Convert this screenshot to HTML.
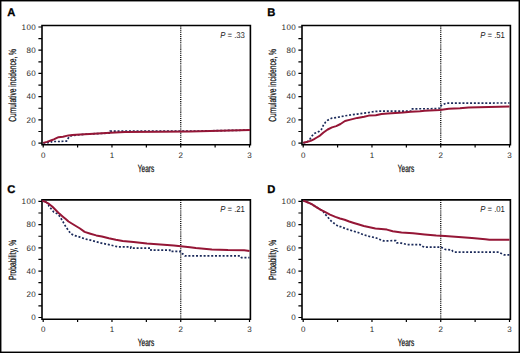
<!DOCTYPE html>
<html><head><meta charset="utf-8"><style>
html,body{margin:0;padding:0;background:#fff;}
svg{display:block;}
text{font-family:"Liberation Sans", sans-serif;fill:#000;text-rendering:geometricPrecision;}
.lt{font-size:11.2px;font-weight:bold;stroke:#000;stroke-width:0.3px;}
.yl{font-size:10.4px;fill:#111;stroke:#111;stroke-width:0.25px;}
.xl{font-size:10.4px;fill:#111;stroke:#111;stroke-width:0.25px;}
.tk{font-size:8px;fill:#2a2a2a;}
.ls{letter-spacing:0.5px;}
.pv{font-size:8.6px;fill:#222;}
</style></head><body>
<svg width="520" height="353" viewBox="0 0 520 353">
<rect x="0.72" y="0.72" width="518.56" height="351.56" fill="none" stroke="#000" stroke-width="1.44"/>
<g transform="translate(0,0)">
<text x="7.2" y="16.10" class="lt">A</text>
<text class="yl" transform="translate(15.6,85.35) rotate(-90) scale(0.64,1)" x="-56.94" y="0">Cumulative incidence, %</text>
<path d="M42.0,25.5 H250.4 V144.8 H42.0 Z" fill="none" stroke="#000" stroke-width="1.6"/>
<path d="M38.4,143.10H42.0M38.4,131.49H42.0M38.4,119.88H42.0M38.4,108.27H42.0M38.4,96.66H42.0M38.4,85.05H42.0M38.4,73.44H42.0M38.4,61.83H42.0M38.4,50.22H42.0M38.4,38.61H42.0M38.4,27.00H42.0" stroke="#000" stroke-width="1.2"/>
<path d="M43.20,144.8V147.6M77.59,144.8V147.6M111.97,144.8V147.6M146.36,144.8V147.6M180.74,144.8V147.6M215.12,144.8V147.6M249.51,144.8V147.6" stroke="#000" stroke-width="1.2"/>
<text class="tk ls" x="31.35" y="145.85">0</text>
<text class="tk ls" x="26.40" y="122.63">20</text>
<text class="tk ls" x="26.40" y="99.41">40</text>
<text class="tk ls" x="26.40" y="76.19">60</text>
<text class="tk ls" x="26.40" y="52.97">80</text>
<text class="tk ls" x="21.45" y="29.75">100</text>
<text class="tk" x="40.98" y="157.6">0</text>
<text class="tk" x="109.75" y="157.6">1</text>
<text class="tk" x="178.52" y="157.6">2</text>
<text class="tk" x="247.29" y="157.6">3</text>
<text class="xl" transform="translate(146.35,171.9) scale(0.63,1)" x="-13.58" y="0">Years</text>
<text class="pv" transform="translate(244.9,37.8) scale(0.9,1)" x="-27.49" y="0"><tspan font-style="italic">P</tspan> = .33</text>
<path d="M180.74,25.5V144.8" stroke="#000" stroke-width="1.3" stroke-dasharray="1.05 1.05"/>
</g>
<polyline points="43.2,142.9 48.0,142.7 51.5,141.9 51.5,141.5 60.0,141.5 60.0,141.3 66.5,141.2 67.5,139.2 69.2,136.8 72.0,135.5 80.0,134.7 90.0,133.9 110.3,133.1 110.3,131.2 190.0,131.2 220.0,130.6 250.0,130.1" fill="none" stroke="#1b2a5a" stroke-width="1.7" stroke-dasharray="2 1.8"/>
<polyline points="43.2,142.9 47.0,141.9 51.5,140.2 53.8,139.4 58.5,137.2 63.0,136.7 68.5,135.4 72.3,135.1 80.0,134.5 89.5,133.9 110.3,132.8 125.0,132.1 160.0,131.8 190.0,131.4 220.0,130.7 250.0,130.1" fill="none" stroke="#951636" stroke-width="2.0" stroke-linejoin="round"/>
<g transform="translate(260.0,0)">
<text x="7.2" y="16.10" class="lt">B</text>
<text class="yl" transform="translate(15.6,85.35) rotate(-90) scale(0.64,1)" x="-56.94" y="0">Cumulative incidence, %</text>
<path d="M42.0,25.5 H250.4 V144.8 H42.0 Z" fill="none" stroke="#000" stroke-width="1.6"/>
<path d="M38.4,143.10H42.0M38.4,131.49H42.0M38.4,119.88H42.0M38.4,108.27H42.0M38.4,96.66H42.0M38.4,85.05H42.0M38.4,73.44H42.0M38.4,61.83H42.0M38.4,50.22H42.0M38.4,38.61H42.0M38.4,27.00H42.0" stroke="#000" stroke-width="1.2"/>
<path d="M43.20,144.8V147.6M77.59,144.8V147.6M111.97,144.8V147.6M146.36,144.8V147.6M180.74,144.8V147.6M215.12,144.8V147.6M249.51,144.8V147.6" stroke="#000" stroke-width="1.2"/>
<text class="tk ls" x="31.35" y="145.85">0</text>
<text class="tk ls" x="26.40" y="122.63">20</text>
<text class="tk ls" x="26.40" y="99.41">40</text>
<text class="tk ls" x="26.40" y="76.19">60</text>
<text class="tk ls" x="26.40" y="52.97">80</text>
<text class="tk ls" x="21.45" y="29.75">100</text>
<text class="tk" x="40.98" y="157.6">0</text>
<text class="tk" x="109.75" y="157.6">1</text>
<text class="tk" x="178.52" y="157.6">2</text>
<text class="tk" x="247.29" y="157.6">3</text>
<text class="xl" transform="translate(146.35,171.9) scale(0.63,1)" x="-13.58" y="0">Years</text>
<text class="pv" transform="translate(244.9,37.8) scale(0.9,1)" x="-27.49" y="0"><tspan font-style="italic">P</tspan> = .51</text>
<path d="M180.74,25.5V144.8" stroke="#000" stroke-width="1.3" stroke-dasharray="1.05 1.05"/>
</g>
<polyline points="303.2,142.9 306.0,142.4 308.1,141.2 310.0,139.0 311.2,137.1 312.5,135.3 314.3,133.4 316.8,132.5 319.3,131.4 321.4,129.5 323.5,125.0 325.6,122.0 327.7,120.2 332.0,118.1 336.2,117.6 340.5,116.8 343.9,116.0 350.4,115.0 357.3,114.1 363.0,113.3 368.8,112.5 374.6,111.5 379.2,111.2 410.8,111.2 411.5,108.8 439.0,108.7 439.5,107.0 441.9,105.1 444.8,103.7 446.7,103.1 509.5,103.0" fill="none" stroke="#1b2a5a" stroke-width="1.7" stroke-dasharray="2 1.8"/>
<polyline points="303.2,142.9 304.4,142.4 307.5,141.8 310.6,140.9 313.7,139.3 316.8,137.5 320.0,135.6 323.5,132.5 327.7,129.5 332.0,127.4 336.2,126.1 340.5,124.0 345.0,121.0 350.4,119.6 357.3,117.9 364.2,116.7 368.8,115.6 375.8,115.2 381.5,114.0 387.7,113.4 403.0,112.6 410.8,111.8 420.0,111.2 424.6,110.7 440.0,109.9 448.7,108.8 460.0,108.2 468.5,107.5 509.5,106.6" fill="none" stroke="#951636" stroke-width="2.0" stroke-linejoin="round"/>
<g transform="translate(0,174.4)">
<text x="7.2" y="18.20" class="lt">C</text>
<text class="yl" transform="translate(15.6,85.35) rotate(-90) scale(0.64,1)" x="-31.79" y="0">Probability, %</text>
<path d="M42.0,25.5 H250.4 V144.8 H42.0 Z" fill="none" stroke="#000" stroke-width="1.6"/>
<path d="M38.4,143.10H42.0M38.4,131.49H42.0M38.4,119.88H42.0M38.4,108.27H42.0M38.4,96.66H42.0M38.4,85.05H42.0M38.4,73.44H42.0M38.4,61.83H42.0M38.4,50.22H42.0M38.4,38.61H42.0M38.4,27.00H42.0" stroke="#000" stroke-width="1.2"/>
<path d="M43.20,144.8V147.6M77.59,144.8V147.6M111.97,144.8V147.6M146.36,144.8V147.6M180.74,144.8V147.6M215.12,144.8V147.6M249.51,144.8V147.6" stroke="#000" stroke-width="1.2"/>
<text class="tk ls" x="31.35" y="145.85">0</text>
<text class="tk ls" x="26.40" y="122.63">20</text>
<text class="tk ls" x="26.40" y="99.41">40</text>
<text class="tk ls" x="26.40" y="76.19">60</text>
<text class="tk ls" x="26.40" y="52.97">80</text>
<text class="tk ls" x="21.45" y="29.75">100</text>
<text class="tk" x="40.98" y="157.6">0</text>
<text class="tk" x="109.75" y="157.6">1</text>
<text class="tk" x="178.52" y="157.6">2</text>
<text class="tk" x="247.29" y="157.6">3</text>
<text class="xl" transform="translate(146.35,171.9) scale(0.63,1)" x="-13.58" y="0">Years</text>
<text class="pv" transform="translate(244.9,37.8) scale(0.9,1)" x="-27.49" y="0"><tspan font-style="italic">P</tspan> = .21</text>
<path d="M180.74,25.5V144.8" stroke="#000" stroke-width="1.3" stroke-dasharray="1.05 1.05"/>
</g>
<polyline points="42.3,200.6 45.7,202.0 48.0,203.4 49.0,206.2 51.3,209.0 53.6,211.9 57.0,213.6 59.3,215.8 61.5,219.2 63.8,223.2 66.0,227.1 68.9,231.1 70.8,233.7 74.2,235.4 80.0,237.1 84.6,238.8 90.4,240.2 96.2,241.7 103.0,243.5 108.8,244.6 113.5,245.8 118.0,246.9 130.8,246.9 130.8,248.2 151.0,248.2 151.0,250.2 169.8,250.2 169.8,251.3 180.0,251.3 180.6,252.9 183.3,254.2 185.0,255.9 240.5,255.9 241.5,257.6 249.5,257.6" fill="none" stroke="#1b2a5a" stroke-width="1.7" stroke-dasharray="2 1.8"/>
<polyline points="42.3,200.6 45.7,202.0 49.0,203.9 52.5,206.8 55.9,210.2 59.3,213.6 62.6,216.4 66.0,219.2 68.5,221.5 74.2,225.0 80.0,228.5 84.6,231.9 90.4,233.7 96.2,235.4 101.9,236.5 108.8,238.3 115.8,239.8 122.7,241.0 133.5,242.1 146.9,243.5 160.4,244.5 173.8,245.5 190.0,247.2 195.8,248.0 211.9,249.4 228.0,250.1 244.2,250.3 249.5,251.0" fill="none" stroke="#951636" stroke-width="2.0" stroke-linejoin="round"/>
<g transform="translate(260.0,174.4)">
<text x="7.2" y="18.20" class="lt">D</text>
<text class="yl" transform="translate(15.6,85.35) rotate(-90) scale(0.64,1)" x="-31.79" y="0">Probability, %</text>
<path d="M42.0,25.5 H250.4 V144.8 H42.0 Z" fill="none" stroke="#000" stroke-width="1.6"/>
<path d="M38.4,143.10H42.0M38.4,131.49H42.0M38.4,119.88H42.0M38.4,108.27H42.0M38.4,96.66H42.0M38.4,85.05H42.0M38.4,73.44H42.0M38.4,61.83H42.0M38.4,50.22H42.0M38.4,38.61H42.0M38.4,27.00H42.0" stroke="#000" stroke-width="1.2"/>
<path d="M43.20,144.8V147.6M77.59,144.8V147.6M111.97,144.8V147.6M146.36,144.8V147.6M180.74,144.8V147.6M215.12,144.8V147.6M249.51,144.8V147.6" stroke="#000" stroke-width="1.2"/>
<text class="tk ls" x="31.35" y="145.85">0</text>
<text class="tk ls" x="26.40" y="122.63">20</text>
<text class="tk ls" x="26.40" y="99.41">40</text>
<text class="tk ls" x="26.40" y="76.19">60</text>
<text class="tk ls" x="26.40" y="52.97">80</text>
<text class="tk ls" x="21.45" y="29.75">100</text>
<text class="tk" x="40.98" y="157.6">0</text>
<text class="tk" x="109.75" y="157.6">1</text>
<text class="tk" x="178.52" y="157.6">2</text>
<text class="tk" x="247.29" y="157.6">3</text>
<text class="xl" transform="translate(146.35,171.9) scale(0.63,1)" x="-13.58" y="0">Years</text>
<text class="pv" transform="translate(244.9,37.8) scale(0.9,1)" x="-27.49" y="0"><tspan font-style="italic">P</tspan> = .01</text>
<path d="M180.74,25.5V144.8" stroke="#000" stroke-width="1.3" stroke-dasharray="1.05 1.05"/>
</g>
<polyline points="303.2,200.6 306.8,202.0 311.3,203.9 315.9,206.8 320.4,209.6 322.7,210.7 324.9,214.1 327.2,216.4 329.5,219.2 331.7,221.5 334.0,223.2 336.3,224.9 338.5,226.6 340.8,226.7 346.5,229.0 352.3,230.8 358.1,232.5 363.8,234.8 369.6,236.5 375.4,237.7 381.2,240.0 383.5,240.9 395.8,240.6 396.9,242.9 401.5,243.2 407.3,244.6 420.0,244.6 422.3,246.3 424.6,247.2 440.8,247.2 443.0,248.1 445.4,249.5 451.7,249.9 453.0,251.5 454.4,252.2 498.8,252.2 501.5,253.6 504.2,254.9 509.5,254.9" fill="none" stroke="#1b2a5a" stroke-width="1.7" stroke-dasharray="2 1.8"/>
<polyline points="303.2,200.6 306.8,202.0 311.3,203.9 315.9,206.8 320.4,209.6 324.9,211.9 330.0,214.6 335.4,216.9 340.0,218.5 344.6,219.8 349.2,221.5 353.8,223.0 358.1,224.3 363.8,226.0 369.6,227.3 375.4,228.5 381.2,229.0 386.9,229.6 392.7,231.3 401.5,232.5 413.1,233.3 424.6,234.5 436.2,235.6 445.0,236.1 458.5,237.0 471.9,238.1 485.4,239.2 489.4,239.8 509.5,239.8" fill="none" stroke="#951636" stroke-width="2.0" stroke-linejoin="round"/>
</svg>
</body></html>
